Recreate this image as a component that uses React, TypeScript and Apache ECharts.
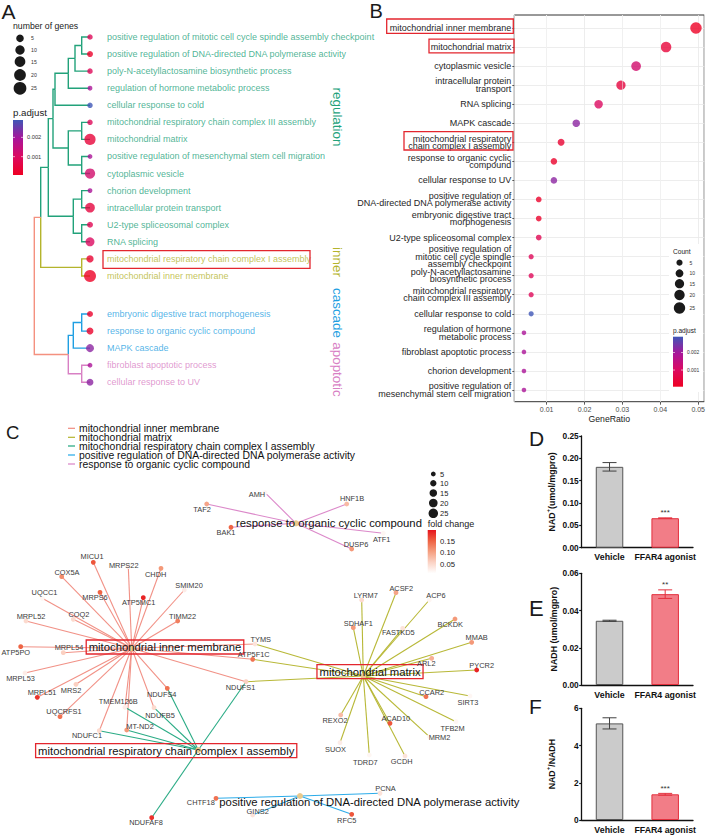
import React, { useEffect, useRef } from "react";
import * as echarts from "echarts";

const FONT = "'Liberation Sans', Arial, Helvetica, sans-serif";

// ================= Panel A & B : GO enrichment =================
const terms = [
  "mitochondrial inner membrane",
  "mitochondrial matrix",
  "cytoplasmic vesicle",
  "intracellular protein transport",
  "RNA splicing",
  "MAPK cascade",
  "mitochondrial respiratory chain complex I assembly",
  "response to organic cyclic compound",
  "cellular response to UV",
  "positive regulation of DNA-directed DNA polymerase activity",
  "embryonic digestive tract morphogenesis",
  "U2-type spliceosomal complex",
  "positive regulation of mitotic cell cycle spindle assembly checkpoint",
  "poly-N-acetyllactosamine biosynthetic process",
  "mitochondrial respiratory chain complex III assembly",
  "cellular response to cold",
  "regulation of hormone metabolic process",
  "fibroblast apoptotic process",
  "chorion development",
  "positive regulation of mesenchymal stem cell migration",
];
const termLabelsB = [
  "mitochondrial inner membrane",
  "mitochondrial matrix",
  "cytoplasmic vesicle",
  "intracellular protein\ntransport",
  "RNA splicing",
  "MAPK cascade",
  "mitochondrial respiratory\nchain complex I assembly",
  "response to organic cyclic\ncompound",
  "cellular response to UV",
  "positive regulation of\nDNA-directed DNA polymerase activity",
  "embryonic digestive tract\nmorphogenesis",
  "U2-type spliceosomal complex",
  "positive regulation of\nmitotic cell cycle spindle\nassembly checkpoint",
  "poly-N-acetyllactosamine\nbiosynthetic process",
  "mitochondrial respiratory\nchain complex III assembly",
  "cellular response to cold",
  "regulation of hormone\nmetabolic process",
  "fibroblast apoptotic process",
  "chorion development",
  "positive regulation of\nmesenchymal stem cell migration",
];
const geneRatio = [0.0494, 0.0415, 0.0336, 0.0296, 0.0237, 0.0178, 0.0138, 0.0119, 0.0119, 0.0079, 0.0079, 0.0079, 0.0059, 0.0059, 0.0059, 0.0059, 0.004, 0.004, 0.004, 0.004];
const geneCount = [25, 21, 17, 15, 12, 9, 7, 6, 6, 4, 4, 4, 3, 3, 3, 3, 2, 2, 2, 2];
const pAdjust = [0.0001, 0.0004, 0.0012, 0.0005, 0.001, 0.0022, 0.0003, 0.0002, 0.0022, 0.0002, 0.0002, 0.0008, 0.0009, 0.0009, 0.0009, 0.0029, 0.0019, 0.0019, 0.0019, 0.0019];
const bMinorTicks = [0.005, 0.015, 0.025, 0.035, 0.045];
const sizeLegendCounts = [5, 10, 15, 20, 25];
const pLegendTicks = [0.001, 0.002];

// dendrogram leaves (top to bottom) and clusters
const treeLeaves = [
  "positive regulation of mitotic cell cycle spindle assembly checkpoint",
  "positive regulation of DNA-directed DNA polymerase activity",
  "poly-N-acetyllactosamine biosynthetic process",
  "regulation of hormone metabolic process",
  "cellular response to cold",
  "mitochondrial respiratory chain complex III assembly",
  "mitochondrial matrix",
  "positive regulation of mesenchymal stem cell migration",
  "cytoplasmic vesicle",
  "chorion development",
  "intracellular protein transport",
  "U2-type spliceosomal complex",
  "RNA splicing",
  "mitochondrial respiratory chain complex I assembly",
  "mitochondrial inner membrane",
  "embryonic digestive tract morphogenesis",
  "response to organic cyclic compound",
  "MAPK cascade",
  "fibroblast apoptotic process",
  "cellular response to UV",
];
const leafCluster = [0, 0, 0, 0, 0, 0, 0, 0, 0, 0, 0, 0, 0, 1, 1, 2, 2, 2, 3, 3];
const clusterNames = ["regulation", "inner", "cascade", "apoptotic"];
// [height, left, right]; numbers are leaf indices
const treeA: any = [55.7,
  [49.3,
    [41.7,
      [37,
        [35, [21.7, [15, [8.3, 0, 1], 2], 3], 4],
        [21.7, [8.3, 5, 6], [8.3, 7, 8]]],
      [16.7, [8.3, 9, 10], [8.3, 11, 12]]],
    [8.3, 13, 14]],
  [21.7, [16.7, [8.3, 15, 16], 17], [8.3, 18, 19]]];

// ================= Panel C : gene-concept network =================
const hubNames = [
  "mitochondrial inner membrane",
  "mitochondrial matrix",
  "mitochondrial respiratory chain complex I assembly",
  "positive regulation of DNA-directed DNA polymerase activity",
  "response to organic cyclic compound",
];
const hubX = [131.7, 363.3, 198.3, 300, 296];
const hubY = [648.3, 676, 750, 796, 523.3];
const geneSets = [
  ["MICU1", "MRPS22", "CHDH", "COX5A", "SMIM20", "MRPS6", "ATP5MC1", "UQCC1", "TIMM22", "COQ2", "MRPL52", "ATP5PO", "MRPL54", "MRPL53", "MRPL51", "MRS2", "UQCRFS1", "NDUFS4", "NDUFB5", "TMEM126B", "MT-ND2", "NDUFC1", "NDUFS1", "TYMS", "ATP5F1C"],
  ["LYRM7", "ACSF2", "ACP6", "SDHAF1", "FASTKD5", "BCKDK", "MMAB", "ARL2", "PYCR2", "CCAR2", "SIRT3", "REXO2", "ACAD10", "TFB2M", "MRM2", "SUOX", "TDRD7", "GCDH", "TYMS", "ATP5F1C", "NDUFS1"],
  ["NDUFAF8", "NDUFS1", "NDUFS4", "NDUFB5", "TMEM126B", "MT-ND2", "NDUFC1"],
  ["CHTF18", "PCNA", "GINS2", "RFC5"],
  ["TAF2", "AMH", "HNF1B", "BAK1", "DUSP6", "ATF1"],
];
const geneNames = ["TAF2", "AMH", "HNF1B", "BAK1", "DUSP6", "ATF1",
  "MICU1", "MRPS22", "CHDH", "COX5A", "SMIM20", "MRPS6", "ATP5MC1", "UQCC1", "TIMM22", "COQ2", "MRPL52", "ATP5PO", "MRPL54", "MRPL53", "MRPL51", "MRS2", "UQCRFS1",
  "NDUFS4", "NDUFB5", "TMEM126B", "MT-ND2", "NDUFC1", "NDUFS1", "TYMS", "ATP5F1C", "NDUFAF8",
  "LYRM7", "ACSF2", "ACP6", "SDHAF1", "FASTKD5", "BCKDK", "MMAB", "ARL2", "PYCR2", "CCAR2", "SIRT3", "REXO2", "ACAD10", "TFB2M", "MRM2", "SUOX", "TDRD7", "GCDH",
  "CHTF18", "PCNA", "GINS2", "RFC5"];
const geneX = [206.7, 265, 346.7, 231, 351.7, 383.3,
  93.3, 128.3, 161, 61.7, 184.3, 100, 143.3, 42.3, 177.7, 73.3, 26, 20.7, 63.3, 25, 37.3, 76, 60,
  167.3, 154, 125, 126.7, 99.3, 246, 255, 252.7, 151.7,
  361.7, 396, 429.3, 353.3, 402.7, 455, 471.7, 431.7, 476.7, 426, 470, 340.7, 390, 456, 429.3, 340, 369.3, 405,
  216, 380, 252.7, 351.7];
const geneY = [504, 492.7, 504, 527.3, 549, 533.3,
  562.3, 566.7, 568.3, 576.7, 590, 592.3, 597.7, 598.3, 621, 619.3, 621, 646.7, 652.7, 673, 697.3, 684.3, 716.7,
  688.3, 707.7, 707.3, 730, 730.7, 681.7, 644, 659.3, 817.7,
  600, 592.7, 600, 627.7, 628.3, 619, 642.3, 658.3, 670, 696.7, 696, 715, 723.3, 721.7, 736.7, 742.7, 755, 756,
  798.3, 793.3, 815, 814.3];
const foldChange = [0.1, 0.02, 0.08, 0.15, 0.11, 0.02,
  0.16, 0.03, 0.11, 0.12, 0.03, 0.15, 0.19, 0.02, 0.13, 0.05, 0.05, 0.15, 0.06, 0.03, 0.18, 0.06, 0.14,
  0.14, 0.05, 0.03, 0.11, 0.05, 0.06, 0.04, 0.14, 0.18,
  0.05, 0.1, 0.02, 0.11, 0.04, 0.11, 0.11, 0.09, 0.19, 0.14, 0.02, 0.08, 0.16, 0.02, 0.02, 0.03, 0.02, 0.04,
  0.14, 0.04, 0.04, 0.16];
const fcLegendTicks = [0.05, 0.1, 0.15];

// ================= Panels D, E, F : bar charts =================
const groups = ["Vehicle", "FFAR4 agonist"];
const vehicleMean = [0.181, 0.0345, 5.19];
const vehicleSem = [0.0095, 0.0003, 0.3];
const agonistMean = [0.066, 0.0488, 1.38];
const agonistSem = [0.0008, 0.0023, 0.05];
const sigLabels = [["", "***"], ["", "**"], ["", "***"]];
const yMax = [0.25, 0.06, 6];
const yStep = [0.05, 0.02, 2];
const yDecimals = [2, 2, 0];
const yTitles = ["NAD{sup|+}(umol/mgpro)", "NADH (umol/mgpro)", "NAD{sup|+}/NADH"];

// ================= styling helpers =================
const treeColors = ["#22a27a", "#b4b42c", "#1f9fe2", "#d880c4", "#f4917f"];
const hubColors = ["#f08b7f", "#b4b42c", "#1fa67e", "#22a8e8", "#d982c6"];
const pStops = ["#ee0022", "#dc0a60", "#a8159a", "#3f56b6"];
const P_MIN = 0.00005, P_MAX = 0.0029;
const fcStops = ["#ffffff", "#fbd3c5", "#f59f80", "#ee6242", "#e6131d"];
const FC_MIN = 0.01, FC_MAX = 0.2;

function rgb(h: string) {
  const n = parseInt(h.slice(1), 16);
  return [(n >> 16) & 255, (n >> 8) & 255, n & 255];
}
function mix(stops: string[], t: number) {
  t = Math.max(0, Math.min(1, t));
  const n = stops.length - 1;
  const i = Math.min(n - 1, Math.floor(t * n));
  const f = t * n - i;
  const a = rgb(stops[i]), b = rgb(stops[i + 1]);
  return `rgb(${Math.round(a[0] + (b[0] - a[0]) * f)},${Math.round(a[1] + (b[1] - a[1]) * f)},${Math.round(a[2] + (b[2] - a[2]) * f)})`;
}
const pColor = (p: number) => mix(pStops, (p - P_MIN) / (P_MAX - P_MIN));
const fcColor = (v: number) => mix(fcStops, (v - FC_MIN) / (FC_MAX - FC_MIN));
const sizeA = (c: number) => 2 + 2 * Math.sqrt(c);
const sizeALegend = (c: number) => 3.5 + 1.85 * Math.sqrt(c);
const sizeB = (c: number) => 1.9 + 1.9 * Math.sqrt(c);
const sizeC = (c: number) => 1.0 + 1.7 * Math.sqrt(c);
const leafPos = (i: number) => i + (i >= 15 ? 1.23 : 0);

function vGrad(stops: string[]) {
  const n = stops.length - 1;
  return {
    type: "linear", x: 0, y: 0, x2: 0, y2: 1,
    colorStops: stops.map((c, i) => ({ offset: 1 - i / n, color: c })).reverse(),
  };
}

function T(text: string, x: number, y: number, size: number, o: any = {}) {
  const align = o.align || "left";
  return {
    type: "text", x, y, silent: true, z: o.z ?? 20, rotation: o.rot ?? 0,
    style: {
      text, fill: o.color || "#1a1a1a", fontSize: size, fontFamily: FONT,
      fontWeight: o.bold ? "bold" : "normal",
      align, textAlign: align, verticalAlign: "middle", textVerticalAlign: "middle",
    },
  };
}
const R = (x: number, y: number, w: number, h: number, stroke = "#e3262e", lw = 1.3, z = 21) => ({
  type: "rect", silent: true, z, shape: { x, y, width: w, height: h },
  style: { fill: "none", stroke, lineWidth: lw },
});
const C = (cx: number, cy: number, d: number, fill = "#1a1a1a", z = 21) => ({
  type: "circle", silent: true, z, shape: { cx, cy, r: d / 2 }, style: { fill },
});
const L = (x1: number, y1: number, x2: number, y2: number, stroke: string, lw = 1, z = 21) => ({
  type: "line", silent: true, z, shape: { x1, y1, x2, y2 }, style: { stroke, lineWidth: lw },
});

function buildOption() {
  // ---- dendrogram segments ----
  const segs: number[][] = [];
  const walk = (t: any): { h: number; y: number; cl: number } => {
    if (typeof t === "number") return { h: 0, y: leafPos(t), cl: leafCluster[t] };
    const a = walk(t[1]);
    const b = walk(t[2]);
    const y = (a.y + b.y) / 2;
    segs.push([t[0], y, a.h, a.y, a.cl]);
    segs.push([t[0], y, b.h, b.y, b.cl]);
    return { h: t[0], y, cl: a.cl === b.cl ? a.cl : 4 };
  };
  walk(treeA);

  const aDots = treeLeaves.map((term, i) => {
    const k = terms.indexOf(term);
    const d = sizeA(geneCount[k]);
    return {
      name: term,
      value: [0, leafPos(i)],
      symbolSize: d,
      itemStyle: { color: pColor(pAdjust[k]) },
      label: {
        show: true, position: "right", distance: 17 - d / 2, formatter: "{b}",
        color: treeColors[leafCluster[i]], fontSize: 9, fontFamily: FONT,
      },
    };
  });

  const bDots = terms.map((t, i) => ({
    name: t,
    value: [geneRatio[i], i],
    symbolSize: sizeB(geneCount[i]),
    itemStyle: { color: pColor(pAdjust[i]) },
  }));

  // ---- network ----
  const labelAt: Record<string, [number, number]> = {
    TAF2: [202, 509.3], AMH: [257, 494], HNF1B: [352, 498.3], BAK1: [226, 532.7], DUSP6: [356, 544], ATF1: [381.7, 539],
    MICU1: [92, 556.7], MRPS22: [123.7, 565.7], CHDH: [155.7, 574], COX5A: [67, 572.7], SMIM20: [189, 585],
    MRPS6: [95, 597.3], ATP5MC1: [138.7, 602.7], UQCC1: [44.5, 592.7], TIMM22: [182.5, 616], COQ2: [79, 614.3],
    MRPL52: [31, 616.7], ATP5PO: [15.8, 652.3], MRPL54: [69, 647.7], MRPL53: [20.5, 678.3], MRPL51: [42, 692.7],
    MRS2: [71, 690], UQCRFS1: [64, 711.7], NDUFS4: [161.7, 694], NDUFB5: [160, 715], TMEM126B: [118.3, 701],
    "MT-ND2": [140, 726], NDUFC1: [87, 735.7], NDUFS1: [240.5, 687.3], TYMS: [260.7, 639], ATP5F1C: [253.7, 654.3],
    NDUFAF8: [146, 822.7], LYRM7: [365.8, 595.7], ACSF2: [401.3, 588.3], ACP6: [436, 595.7], SDHAF1: [358.3, 623.3],
    FASTKD5: [398.3, 632.7], BCKDK: [450.2, 624], MMAB: [476.7, 637.7], ARL2: [426.3, 663.3], PYCR2: [481.7, 665.7],
    CCAR2: [431.7, 692.7], SIRT3: [468, 702.7], REXO2: [335, 720], ACAD10: [395.8, 718.3], TFB2M: [452.5, 728.3],
    MRM2: [439.5, 737.7], SUOX: [335.5, 749.3], TDRD7: [365.3, 762.3], GCDH: [401.7, 761.7], CHTF18: [200.8, 802.3],
    PCNA: [385.5, 788.3], GINS2: [257.7, 811.7], RFC5: [346.7, 820],
  };
  const hubLabelOffset = [[33.3, -1.3], [6.7, -4.3], [-32.1, 0.7], [69.4, 5.7], [33, 0]];
  const hubBoxed = [true, true, true, false, false];
  const nodes: any[] = [];
  hubNames.forEach((h, i) => {
    nodes.push({
      name: h, value: [hubX[i], hubY[i]], symbolSize: 6,
      itemStyle: { color: "#e9c98c" },
      label: {
        show: true, position: "inside", offset: hubLabelOffset[i], formatter: "{b}",
        fontSize: 11.3, color: "#111", fontFamily: FONT,
        borderColor: hubBoxed[i] ? "#e3262e" : "transparent", borderWidth: hubBoxed[i] ? 1.3 : 0,
        padding: hubBoxed[i] ? [2, 2.5, 1, 2.5] : 0,
      },
    });
  });
  geneNames.forEach((g, i) => {
    const la = labelAt[g];
    nodes.push({
      name: g, value: [geneX[i], geneY[i]], symbolSize: 4.8,
      itemStyle: { color: fcColor(foldChange[i]) },
      label: {
        show: true, position: "inside", offset: [la[0] - geneX[i], la[1] - geneY[i]], formatter: "{b}",
        fontSize: 7.4, color: "#3a3a3a", fontFamily: FONT,
      },
    });
  });
  const links: any[] = [];
  geneSets.forEach((set, h) => {
    set.forEach((g) => {
      links.push({
        source: h, target: hubNames.length + geneNames.indexOf(g),
        lineStyle: { color: hubColors[h], width: 1.1, opacity: 0.95 },
      });
    });
  });

  // ---- grids & axes ----
  const grids: any[] = [
    { left: 30, top: 19.93, width: 60, height: 375.5 },
    { left: 514.3, top: 15, width: 190, height: 386.7, show: true, borderColor: "#333", borderWidth: 1, backgroundColor: "#fff" },
    { left: 514.3, top: 28, width: 190, height: 362 },
    { left: 0, top: 0, width: 708, height: 835 },
    { left: 581.7, top: 436, width: 111.3, height: 111.7 },
    { left: 581.7, top: 573.3, width: 111.3, height: 111.7 },
    { left: 581.7, top: 708.3, width: 111.3, height: 111.7 },
  ];
  const xAxes: any[] = [
    { gridIndex: 0, type: "value", min: 0, max: 60, inverse: true, show: false },
    {
      gridIndex: 1, type: "value", min: 0.00145, max: 0.0516, splitNumber: 5,
      axisLine: { show: false },
      axisTick: { show: true, length: 3, lineStyle: { color: "#333", width: 0.8 } },
      axisLabel: { fontSize: 7, color: "#4d4d4d", margin: 4, showMinLabel: false, showMaxLabel: false, fontFamily: FONT },
      splitLine: { show: true, lineStyle: { color: "#e9e9e9", width: 0.8 } },
      name: "GeneRatio", nameLocation: "middle", nameGap: 13,
      nameTextStyle: { fontSize: 8.7, color: "#222", fontFamily: FONT },
    },
    { gridIndex: 2, type: "value", min: 0.00145, max: 0.0516, show: false },
    { gridIndex: 3, type: "value", min: 0, max: 708, show: false },
  ];
  const yAxes: any[] = [
    { gridIndex: 0, type: "value", min: -1, max: 21, inverse: true, show: false },
    { gridIndex: 1, type: "value", min: 0, max: 1, show: false },
    {
      gridIndex: 2, type: "value", min: 0, max: 19, interval: 1, inverse: true,
      axisLine: { show: false },
      axisTick: { show: true, length: 2, lineStyle: { color: "#333", width: 0.8 } },
      axisLabel: {
        formatter: (v: number) => termLabelsB[Math.round(v)] ?? "",
        fontSize: 9, lineHeight: 7.4, color: "#262626", margin: 3, fontFamily: FONT,
      },
      splitLine: { show: true, lineStyle: { color: "#e9e9e9", width: 0.8 } },
    },
    { gridIndex: 3, type: "value", min: 0, max: 835, inverse: true, show: false },
  ];
  for (let k = 0; k < 3; k++) {
    xAxes.push({
      gridIndex: 4 + k, type: "category", data: groups,
      axisLine: { show: true, lineStyle: { color: "#111", width: 1.3 } },
      axisTick: { show: false },
      axisLabel: { interval: 0, hideOverlap: false, fontWeight: "bold", fontSize: 8.8, color: "#111", margin: 5, fontFamily: FONT },
    });
    yAxes.push({
      gridIndex: 4 + k, type: "value", min: 0, max: yMax[k], interval: yStep[k],
      axisLine: { show: true, lineStyle: { color: "#111", width: 1.3 } },
      axisTick: { show: true, length: 2.5, lineStyle: { color: "#111", width: 1.2 } },
      axisLabel: {
        fontWeight: "bold", fontSize: 8.3, color: "#111", margin: 3, fontFamily: FONT,
        formatter: (v: number) => v.toFixed(yDecimals[k]),
      },
      splitLine: { show: false },
      name: yTitles[k], nameLocation: "middle", nameGap: 23,
      nameTextStyle: {
        fontWeight: "bold", fontSize: 8.8, color: "#111", fontFamily: FONT,
        rich: { sup: { fontWeight: "bold", fontSize: 6, color: "#111", fontFamily: FONT, verticalAlign: "top", lineHeight: 14 } },
      },
    });
  }

  // ---- series ----
  const series: any[] = [
    {
      type: "custom", xAxisIndex: 0, yAxisIndex: 0, clip: false, silent: true, data: segs, z: 2,
      renderItem: (_p: any, api: any) => {
        const p0 = api.coord([api.value(0), api.value(1)]);
        const p1 = api.coord([api.value(0), api.value(3)]);
        const p2 = api.coord([api.value(2), api.value(3)]);
        return {
          type: "polyline", shape: { points: [p0, p1, p2] },
          style: { stroke: treeColors[api.value(4)], fill: "none", lineWidth: 1.4 },
        };
      },
    },
    { type: "scatter", xAxisIndex: 0, yAxisIndex: 0, clip: false, silent: true, data: aDots, z: 3 },
    {
      type: "scatter", xAxisIndex: 1, yAxisIndex: 1, silent: true, symbolSize: 0, data: [[0.02, 0.5]], z: 1,
      markLine: {
        silent: true, symbol: ["none", "none"], label: { show: false },
        lineStyle: { color: "#f3f3f3", width: 0.5, type: "solid" },
        data: bMinorTicks.map((v) => ({ xAxis: v })),
      },
    },
    { type: "scatter", xAxisIndex: 2, yAxisIndex: 2, silent: true, data: bDots, z: 3 },
    {
      type: "graph", coordinateSystem: "cartesian2d", xAxisIndex: 3, yAxisIndex: 3, silent: true,
      symbol: "circle", data: nodes, links, z: 4,
      lineStyle: { width: 1.1, curveness: 0 },
    },
  ];
  for (let k = 0; k < 3; k++) {
    series.push({
      type: "bar", xAxisIndex: 4 + k, yAxisIndex: 4 + k, barWidth: 27.5, silent: true,
      data: [
        { value: vehicleMean[k], itemStyle: { color: "#cbcbcb", borderColor: "#555", borderWidth: 1 } },
        { value: agonistMean[k], itemStyle: { color: "#f27d87", borderColor: "#e3303e", borderWidth: 1 } },
      ],
    });
    const kk = k;
    series.push({
      type: "custom", xAxisIndex: 4 + k, yAxisIndex: 4 + k, silent: true, clip: false, z: 5,
      data: [[0, vehicleMean[k], vehicleSem[k]], [1, agonistMean[k], agonistSem[k]]],
      renderItem: (params: any, api: any) => {
        const i = params.dataIndex;
        const x = api.value(0), m = api.value(1), s = api.value(2);
        const top = api.coord([x, m + s]);
        const bot = api.coord([x, m - s]);
        const w = 7;
        const color = i === 0 ? "#404040" : "#e4303d";
        const st = { stroke: color, lineWidth: 1 };
        const children: any[] = [
          { type: "line", shape: { x1: top[0], y1: top[1], x2: bot[0], y2: bot[1] }, style: st },
          { type: "line", shape: { x1: top[0] - w, y1: top[1], x2: top[0] + w, y2: top[1] }, style: st },
          { type: "line", shape: { x1: bot[0] - w, y1: bot[1], x2: bot[0] + w, y2: bot[1] }, style: st },
        ];
        const star = sigLabels[kk][i];
        if (star) {
          children.push({
            type: "text", x: top[0], y: top[1] - 5,
            style: {
              text: star, fill: "#333", fontSize: 8, fontFamily: FONT,
              align: "center", textAlign: "center", verticalAlign: "middle", textVerticalAlign: "middle",
            },
          });
        }
        return { type: "group", children };
      },
    });
  }

  // ---- graphics: letters, legends, boxes ----
  const g: any[] = [];
  g.push(T("A", 1.5, 11.5, 21), T("B", 369.5, 11, 20), T("C", 6, 432, 18.5));
  g.push(T("D", 529, 438, 21), T("E", 529, 608.5, 22), T("F", 529, 706, 21));

  // A legend
  g.push(T("number of genes", 13, 26, 8.7, { color: "#222" }));
  const aLegY = [38.3, 50, 61.7, 75, 88.3];
  sizeLegendCounts.forEach((c, i) => {
    g.push(C(20, aLegY[i], sizeALegend(c)));
    g.push(T(String(c), 31, aLegY[i], 5.2, { color: "#333" }));
  });
  g.push(T("p.adjust", 13, 112.5, 9.7, { color: "#222" }));
  g.push({ type: "rect", silent: true, z: 21, shape: { x: 13, y: 120, width: 10, height: 55 }, style: { fill: vGrad(pStops) } });
  pLegendTicks.forEach((v) => {
    const y = 120 + ((P_MAX - v) / (P_MAX - P_MIN)) * 55;
    g.push(L(13, y, 15, y, "#fff", 0.6), L(21, y, 23, y, "#fff", 0.6));
    g.push(T(v.toFixed(3), 27, y, 5.7, { color: "#333" }));
  });
  // A cluster labels
  const clY = [117, 262, 313, 369.5];
  clusterNames.forEach((n, i) => g.push(T(n, 337, clY[i], 13.4, { color: treeColors[i], align: "center", rot: -Math.PI / 2 })));
  g.push(R(103, 250.7, 207, 17.6));

  // B boxes
  g.push(R(386.7, 19, 126.6, 14.3), R(429, 39.2, 85, 13.7), R(404, 131.7, 109, 18.3));
  // B legend
  g.push({ type: "rect", silent: true, z: 19, shape: { x: 669, y: 244, width: 34, height: 148 }, style: { fill: "#fff" } });
  g.push(T("Count", 673, 251, 6.6, { color: "#222" }));
  const bLegY = [262.7, 273.3, 283.7, 295, 308];
  sizeLegendCounts.forEach((c, i) => {
    g.push(C(679.5, bLegY[i], sizeB(c)));
    g.push(T(String(c), 689.5, bLegY[i], 5, { color: "#333" }));
  });
  g.push(T("p.adjust", 673, 330, 6.5, { color: "#222" }));
  g.push({ type: "rect", silent: true, z: 21, shape: { x: 673, y: 336.7, width: 10, height: 50 }, style: { fill: vGrad(pStops) } });
  pLegendTicks.forEach((v) => {
    const y = 336.7 + ((P_MAX - v) / (P_MAX - P_MIN)) * 50;
    g.push(L(673, y, 675, y, "#fff", 0.6), L(681, y, 683, y, "#fff", 0.6));
    g.push(T(v.toFixed(3), 687, y, 4.9, { color: "#333" }));
  });

  // C legend
  const cLegY = [428.3, 437.3, 446, 455, 464];
  hubNames.forEach((n, i) => {
    g.push(L(68, cLegY[i], 75, cLegY[i], hubColors[i], 1.2));
    g.push(T(n, 79, cLegY[i], 10.4, { color: "#111" }));
  });
  const cSizeY = [474, 483.3, 493, 503, 513.3];
  sizeLegendCounts.forEach((c, i) => {
    g.push(C(433.3, cSizeY[i], sizeC(c)));
    g.push(T(String(c), 440, cSizeY[i], 7.5, { color: "#222" }));
  });
  g.push(T("fold change", 427.7, 524.3, 9, { color: "#222" }));
  g.push({ type: "rect", silent: true, z: 21, shape: { x: 427.7, y: 530, width: 8.3, height: 43.3 }, style: { fill: vGrad(fcStops) } });
  fcLegendTicks.forEach((v) => {
    const y = 530 + ((FC_MAX - v) / (FC_MAX - FC_MIN)) * 43.3;
    g.push(T(v.toFixed(2), 440, y, 7.7, { color: "#222" }));
  });

  return {
    animation: false,
    backgroundColor: "#fff",
    textStyle: { fontFamily: FONT },
    grid: grids,
    xAxis: xAxes,
    yAxis: yAxes,
    series,
    graphic: g,
  };
}

export default function App() {
  const ref = useRef<HTMLDivElement>(null);
  useEffect(() => {
    document.body.style.margin = "0";
    const chart = echarts.init(ref.current as HTMLDivElement, null, { renderer: "svg" });
    chart.setOption(buildOption() as any);
    return () => chart.dispose();
  }, []);
  return <div ref={ref} style={{ width: 708, height: 835 }} />;
}
